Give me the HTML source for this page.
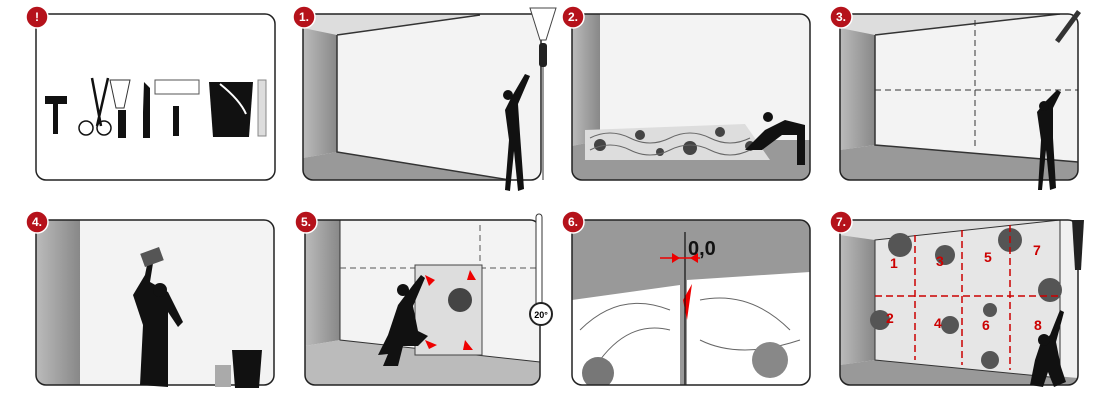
<!DOCTYPE html><html><head><style>body{margin:0;background:#fff}svg{display:block}text{font-family:"Liberation Sans",sans-serif;font-weight:bold}</style></head><body>
<svg width="1108" height="400" viewBox="0 0 1108 400" xmlns="http://www.w3.org/2000/svg">
<defs>
<linearGradient id="lw" x1="0" x2="1"><stop offset="0" stop-color="#bbb"/><stop offset="1" stop-color="#888"/></linearGradient>
<clipPath id="c1"><rect x="303" y="14" width="238" height="166" rx="10"/></clipPath>
<clipPath id="c2"><rect x="572" y="14" width="238" height="166" rx="10"/></clipPath>
<clipPath id="c3"><rect x="840" y="14" width="238" height="166" rx="10"/></clipPath>
<clipPath id="c4"><rect x="36" y="220" width="238" height="165" rx="10"/></clipPath>
<clipPath id="c5"><rect x="305" y="220" width="235" height="165" rx="10"/></clipPath>
<clipPath id="c6"><rect x="572" y="220" width="238" height="165" rx="10"/></clipPath>
<clipPath id="c7"><rect x="840" y="220" width="238" height="165" rx="10"/></clipPath>
</defs>
<g stroke="#222" stroke-width="1.5" fill="none">
<!-- panel 0 -->
<rect x="36" y="14" width="239" height="166" rx="10" fill="#fff"/>
</g>
<!-- tools -->
<g fill="#111">
<rect x="45" y="96" width="22" height="8"/><rect x="53" y="104" width="5" height="30"/>
<rect x="118" y="110" width="8" height="28"/><polygon points="110,80 130,80 124,108 116,108" fill="#fff" stroke="#333"/>
<rect x="143" y="112" width="7" height="26"/><polygon points="144,82 150,88 150,112 143,112"/>
<rect x="155" y="80" width="44" height="14" fill="#fff" stroke="#555"/><rect x="173" y="106" width="6" height="30"/>
<path d="M209 82h44l-4 55h-36z"/><rect x="258" y="80" width="8" height="56" fill="#ddd" stroke="#888"/>
</g>
<path d="M92 78 L101 126 M108 78 L97 126" stroke="#111" stroke-width="2.5"/>
<circle cx="86" cy="128" r="7" fill="none" stroke="#111" stroke-width="1.5"/><circle cx="104" cy="128" r="7" fill="none" stroke="#111" stroke-width="1.5"/>
<path d="M220 84 Q240 100 246 114" stroke="#fff" stroke-width="2" fill="none"/>

<!-- panel 1 -->
<g clip-path="url(#c1)">
<rect x="303" y="14" width="238" height="166" fill="#f3f3f3"/>
<polygon points="303,14 480,14 337,35 303,30" fill="#ddd"/>
<polygon points="303,28 337,35 337,152 303,158" fill="url(#lw)"/>
<polygon points="303,158 337,152 541,185 541,190 303,190" fill="#999"/>
<path d="M337,35 L480,15 M337,35V152L541,185" stroke="#333" stroke-width="1.5" fill="none"/>
</g>
<rect x="303" y="14" width="238" height="166" rx="10" fill="none" stroke="#222" stroke-width="1.5"/>
<polygon points="530,8 556,8 546,40 540,40" fill="#fff" stroke="#444"/><rect x="539" y="43" width="8" height="24" rx="3" fill="#222"/>
<path d="M543 67 V180" stroke="#333"/>
<path d="M505 190 l4-50 -4-30 6-12 14-24 5 2-12 28 2 30 4 55 -6 2 -4-40 -4 40z" fill="#111"/><circle cx="508" cy="95" r="5" fill="#111"/>

<!-- panel 2 -->
<g clip-path="url(#c2)">
<rect x="572" y="14" width="238" height="166" fill="#f3f3f3"/>
<polygon points="572,14 600,14 600,140 572,146" fill="url(#lw)"/>
<polygon points="572,146 600,140 810,140 810,180 572,180" fill="#999"/>
<polygon points="585,130 745,124 770,160 585,160" fill="#ddd"/>
<g fill="#444"><circle cx="600" cy="145" r="6"/><circle cx="640" cy="135" r="5"/><circle cx="690" cy="148" r="7"/><circle cx="720" cy="132" r="5"/><circle cx="660" cy="152" r="4"/><circle cx="750" cy="146" r="5"/></g>
<path d="M590 138 q20-10 40 0 t40 0 t40 0 t40 0 M590 150 q20-10 40 0 t40 0 t40 0 t40 0" stroke="#666" fill="none"/>
</g>
<rect x="572" y="14" width="238" height="166" rx="10" fill="none" stroke="#222" stroke-width="1.5"/>
<path d="M745 150 l20-20 20-10 20 5 0 40 -8 0 0-30 -15 0 -20 15z" fill="#111"/><circle cx="768" cy="117" r="5" fill="#111"/>

<!-- panel 3 -->
<g clip-path="url(#c3)">
<rect x="840" y="14" width="238" height="166" fill="#f3f3f3"/>
<polygon points="840,14 1060,14 875,35 840,30" fill="#ddd"/>
<polygon points="840,28 875,35 875,145 840,150" fill="url(#lw)"/>
<polygon points="840,150 875,145 1078,162 1078,180 840,180" fill="#999"/>
<path d="M875,35 L1060,14 M875,35V145L1078,162" stroke="#333" stroke-width="1.5" fill="none"/>
<path d="M875 90 H1078 M975 20 V150" stroke="#333" stroke-dasharray="6 4"/>
</g>
<rect x="840" y="14" width="238" height="166" rx="10" fill="none" stroke="#222" stroke-width="1.5"/>
<path d="M1055 40 l22-30 4 3 -22 30z" fill="#333"/>
<path d="M1038 190 l3-50 -4-28 8-10 12-12 4 2-8 16 0 30 3 50 -6 2 -4-40 -4 40z" fill="#111"/><circle cx="1044" cy="106" r="5" fill="#111"/>

<!-- panel 4 -->
<g clip-path="url(#c4)">
<rect x="36" y="220" width="238" height="165" fill="#f3f3f3"/>
<polygon points="36,220 80,220 80,385 36,385" fill="url(#lw)"/>
</g>
<rect x="36" y="220" width="238" height="165" rx="10" fill="none" stroke="#222" stroke-width="1.5"/>
<path d="M140 385 l3-60 -10-30 12-20 4-20 5 2-4 25 18 10 15 30 -5 5 -10-15 0 75z" fill="#111"/><circle cx="160" cy="290" r="7" fill="#111"/>
<rect x="142" y="250" width="20" height="14" fill="#555" transform="rotate(-20 152 257)"/>
<path d="M232 350h30l-3 38h-24z" fill="#111"/><rect x="215" y="365" width="16" height="22" fill="#aaa"/>

<!-- panel 5 -->
<g clip-path="url(#c5)">
<rect x="305" y="220" width="235" height="165" fill="#f3f3f3"/>
<polygon points="305,220 340,220 340,340 305,346" fill="url(#lw)"/>
<polygon points="305,346 340,340 540,362 540,385 305,385" fill="#bbb"/>
<path d="M340,220V340L540,362" stroke="#333" fill="none"/>
<path d="M340 268 H540 M480 225 V265" stroke="#555" stroke-dasharray="6 4"/>
<rect x="415" y="265" width="67" height="90" fill="#ddd" stroke="#444"/>
<circle cx="460" cy="300" r="12" fill="#444"/>
<g fill="#e00"><path d="M425 275l10 5-6 6z"/><path d="M470 270l6 10-9 0z"/><path d="M425 340l12 5-8 4z"/><path d="M465 340l8 10-10 0z"/></g>
</g>
<rect x="305" y="220" width="235" height="165" rx="10" fill="none" stroke="#222" stroke-width="1.5"/>
<path d="M378 355 l10-20 10-30 15-20 8-10 4 3 -12 28 5 25 10 5 -10 10 -15 0 -5 20 -15 0 5-12z" fill="#111"/><circle cx="403" cy="290" r="6" fill="#111"/>
<rect x="536" y="214" width="6" height="92" rx="3" fill="#fff" stroke="#333"/>
<circle cx="541" cy="314" r="11" fill="#fff" stroke="#222" stroke-width="2"/>
<text x="541" y="318" font-size="9" text-anchor="middle">20°</text>

<!-- panel 6 -->
<g clip-path="url(#c6)">
<rect x="572" y="220" width="238" height="165" fill="#999"/>
<polygon points="572,300 680,285 680,385 572,385" fill="#fff"/>
<polygon points="687,280 810,272 810,385 687,385" fill="#fff"/>
<g stroke="#666" fill="none"><path d="M580 330q40-40 90-20M600 360q30-40 70-30M700 300q50-10 90 30M700 340q40 20 100 0"/></g>
<circle cx="598" cy="373" r="16" fill="#777"/><circle cx="770" cy="360" r="18" fill="#888"/>
<polygon points="683,300 692,284 687,320" fill="#e00"/>
<path d="M685 232 V385" stroke="#111" stroke-width="1.2"/>
</g>
<rect x="572" y="220" width="238" height="165" rx="10" fill="none" stroke="#222" stroke-width="1.5"/>
<path d="M660 258 H700" stroke="#e00" stroke-width="1.5"/><path d="M672 253l8 5-8 5zM698 253l-8 5 8 5z" fill="#e00"/>
<text x="688" y="255" font-size="20" font-weight="normal" fill="#111">0,0</text>

<!-- panel 7 -->
<g clip-path="url(#c7)">
<rect x="840" y="220" width="238" height="165" fill="#f0f0f0"/>
<polygon points="840,220 1060,220 875,240 840,235" fill="#ddd"/>
<polygon points="840,235 875,240 875,360 840,365" fill="url(#lw)"/>
<polygon points="840,365 875,360 1078,378 1078,385 840,385" fill="#999"/>
<polygon points="875,240 1060,220 1060,378 875,360" fill="#e6e6e6" stroke="#333"/>
<g fill="#555"><circle cx="900" cy="245" r="12"/><circle cx="945" cy="255" r="10"/><circle cx="1010" cy="240" r="12"/><circle cx="1050" cy="290" r="12"/><circle cx="880" cy="320" r="10"/><circle cx="950" cy="325" r="9"/><circle cx="990" cy="310" r="7"/><circle cx="990" cy="360" r="9"/></g>
<path d="M875 296 H1060 M915 235 V360 M962 230 V365 M1010 225 V370" stroke="#c00" stroke-width="1.5" stroke-dasharray="7 4"/>
</g>
<rect x="840" y="220" width="238" height="165" rx="10" fill="none" stroke="#222" stroke-width="1.5"/>
<g fill="#c00" font-size="14"><text x="890" y="268">1</text><text x="936" y="266">3</text><text x="984" y="262">5</text><text x="1033" y="255">7</text><text x="886" y="323">2</text><text x="934" y="328">4</text><text x="982" y="330">6</text><text x="1034" y="330">8</text></g>
<path d="M1072 220 h12 l-3 50 h-6z" fill="#222"/>
<path d="M1030 385 l5-25 5-15 10-10 10-25 4 2-8 30 5 25 5 15 -12 5 -6-15 -5 15z" fill="#111"/><circle cx="1044" cy="340" r="6" fill="#111"/>

<!-- badges -->
<g fill="#b5121b" stroke="#fff" stroke-width="1.5">
<circle cx="37" cy="17" r="11"/><circle cx="304" cy="17" r="11"/><circle cx="573" cy="17" r="11"/><circle cx="841" cy="17" r="11"/>
<circle cx="37" cy="222" r="11"/><circle cx="306" cy="222" r="11"/><circle cx="573" cy="222" r="11"/><circle cx="841" cy="222" r="11"/>
</g>
<g fill="#fff" font-size="12" text-anchor="middle">
<text x="37" y="21">!</text><text x="304" y="21">1.</text><text x="573" y="21">2.</text><text x="841" y="21">3.</text>
<text x="37" y="226">4.</text><text x="306" y="226">5.</text><text x="573" y="226">6.</text><text x="841" y="226">7.</text>
</g>
</svg>
</body></html>
